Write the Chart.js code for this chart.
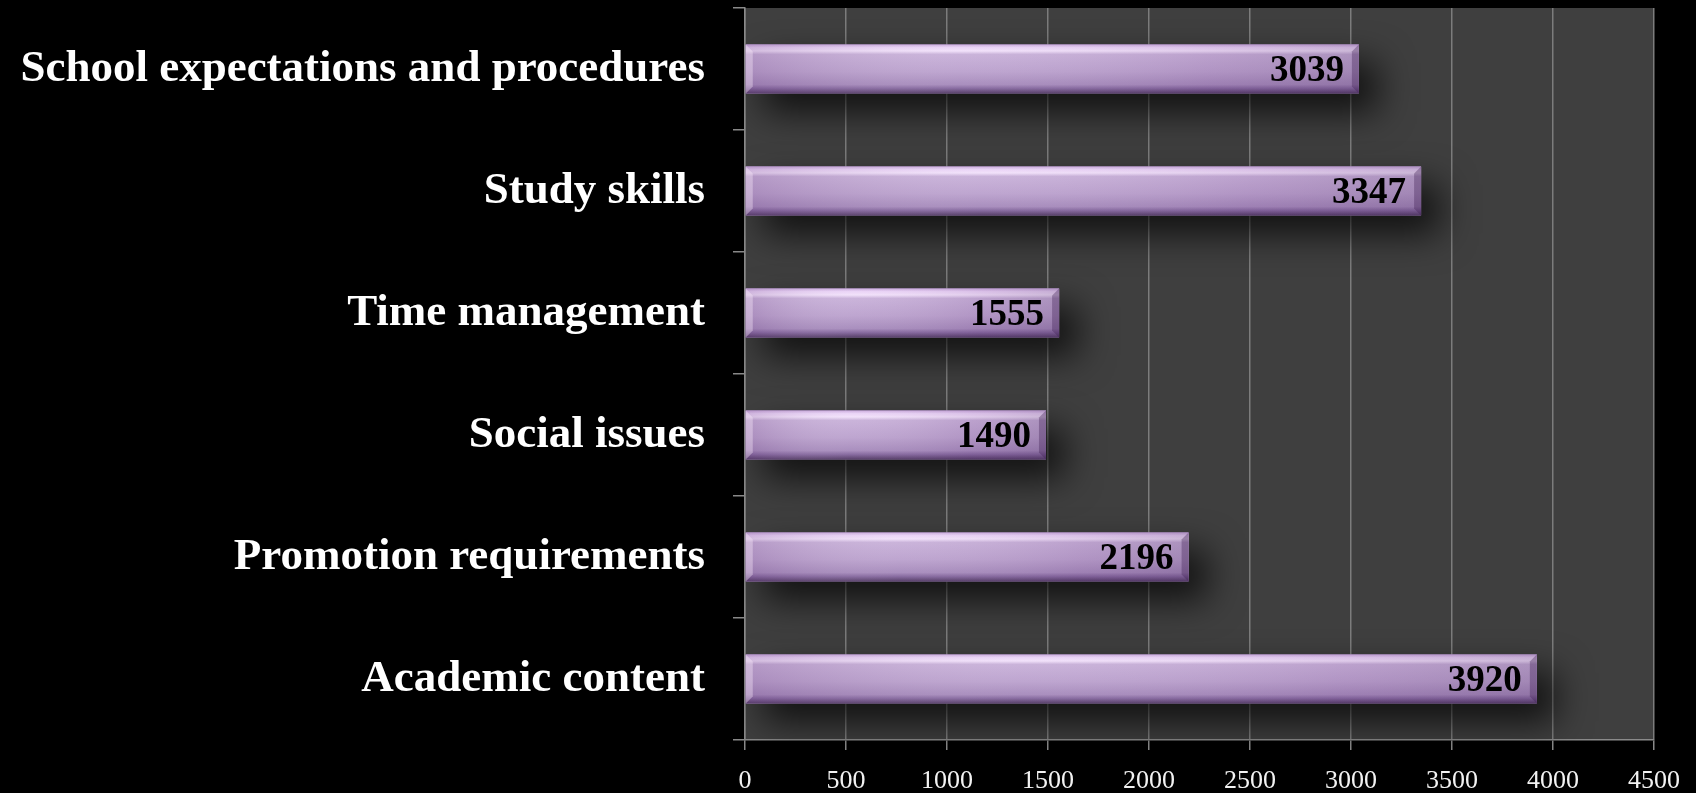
<!DOCTYPE html>
<html>
<head>
<meta charset="utf-8">
<script src="https://cdn.jsdelivr.net/npm/chart.js@4/dist/chart.umd.min.js"></script>
<style>
  html, body { margin: 0; padding: 0; background: #000; }
  #wrap { width: 1696px; height: 793px; }
</style>
</head>
<body>
<div id="wrap"><canvas id="bar-chart"></canvas></div>
<script>
var topics = ['School expectations and procedures', 'Study skills', 'Time management',
              'Social issues', 'Promotion requirements', 'Academic content'];
var counts = [3039, 3347, 1555, 1490, 2196, 3920];
var xTicks = [0, 500, 1000, 1500, 2000, 2500, 3000, 3500, 4000, 4500];

// dark panel behind the bars
var plotBg = {
    id: 'plotBg',
    beforeDraw: function (chart) {
        var a = chart.chartArea, ctx = chart.ctx;
        ctx.save();
        ctx.fillStyle = '#3f3f3f';
        ctx.fillRect(a.left, a.top, a.right - a.left, a.bottom - a.top);
        ctx.restore();
    }
};

// glossy bevelled bars with a soft shadow, then the value at the end
var bevel = {
    id: 'bevel',
    afterDatasetsDraw: function (chart) {
        var ctx = chart.ctx;
        var meta = chart.getDatasetMeta(0);
        meta.data.forEach(function (bar, i) {
            var x0 = bar.base, x1 = bar.x;
            var y0 = bar.y - bar.height / 2, y1 = bar.y + bar.height / 2;
            var w = x1 - x0, h = y1 - y0, b = 7;

            ctx.save();
            ctx.shadowColor = 'rgba(0,0,0,0.75)';
            ctx.shadowBlur = 36;
            ctx.shadowOffsetX = 18;
            ctx.shadowOffsetY = 18;
            ctx.fillStyle = '#a98cbe';
            ctx.fillRect(x0, y0, w, h);
            ctx.restore();

            ctx.save();
            var g = ctx.createLinearGradient(0, y0, 0, y1);
            g.addColorStop(0, '#c9a9dc');
            g.addColorStop(0.06, '#e9d2f6');
            g.addColorStop(0.13, '#f1e0fa');
            g.addColorStop(0.2, '#c7afd8');
            g.addColorStop(0.55, '#baa0cd');
            g.addColorStop(0.82, '#a488ba');
            g.addColorStop(0.9, '#80629a');
            g.addColorStop(1, '#4d3460');
            ctx.fillStyle = g;
            ctx.fillRect(x0, y0, w, h);

            // soft horizontal sheen
            var s = ctx.createLinearGradient(x0, 0, x1, 0);
            s.addColorStop(0, 'rgba(120,80,140,0.25)');
            s.addColorStop(0.35, 'rgba(255,255,255,0.06)');
            s.addColorStop(0.75, 'rgba(120,80,140,0.14)');
            s.addColorStop(1, 'rgba(90,60,110,0.25)');
            ctx.fillStyle = s;
            ctx.fillRect(x0, y0, w, h);

            // bevel edges: left light, right dark
            ctx.fillStyle = 'rgba(255,240,255,0.35)';
            ctx.beginPath();
            ctx.moveTo(x0, y0); ctx.lineTo(x0 + b, y0 + b); ctx.lineTo(x0 + b, y1 - b); ctx.lineTo(x0, y1);
            ctx.closePath(); ctx.fill();
            ctx.fillStyle = 'rgba(60,30,80,0.35)';
            ctx.beginPath();
            ctx.moveTo(x1, y0); ctx.lineTo(x1 - b, y0 + b); ctx.lineTo(x1 - b, y1 - b); ctx.lineTo(x1, y1);
            ctx.closePath(); ctx.fill();

            // value label
            ctx.fillStyle = '#000';
            ctx.font = 'bold 37px "Liberation Serif", serif';
            ctx.textAlign = 'right';
            ctx.textBaseline = 'middle';
            ctx.fillText(String(counts[i]), x1 - 15, bar.y + 2);
            ctx.restore();
        });
    }
};

new Chart(document.getElementById('bar-chart'), {
    type: 'bar',
    data: {
        labels: topics,
        datasets: [{
            data: counts,
            backgroundColor: '#a98cbe',
            borderWidth: 0,
            barPercentage: 0.8,
            categoryPercentage: 0.5
        }]
    },
    options: {
        indexAxis: 'y',
        responsive: true,
        maintainAspectRatio: false,
        animation: false,
        layout: { padding: { top: 8, right: 42, bottom: 0, left: 0 } },
        plugins: {
            legend: { display: false },
            tooltip: { enabled: false }
        },
        scales: {
            x: {
                min: 0,
                max: 4500,
                afterBuildTicks: function (axis) {
                    axis.ticks = xTicks.map(function (v) { return { value: v }; });
                },
                afterFit: function (axis) { axis.height = 53; },
                grid: {
                    color: '#7c7c7c',
                    lineWidth: 1.5,
                    tickLength: 10,
                    tickColor: '#8a8a8a'
                },
                border: { color: '#8a8a8a', width: 1.5 },
                ticks: {
                    color: '#f2f2f2',
                    padding: 16,
                    maxRotation: 0,
                    callback: function (v) { return String(v); },
                    font: { family: '"Liberation Serif", serif', size: 26 }
                }
            },
            y: {
                afterFit: function (axis) {
                    axis.width = 745;
                    axis.paddingTop = 0;
                    axis.paddingBottom = 0;
                },
                grid: {
                    drawOnChartArea: false,
                    tickLength: 12,
                    tickColor: '#8a8a8a',
                    lineWidth: 1.5
                },
                border: { color: '#8a8a8a', width: 1.5 },
                ticks: {
                    color: '#ffffff',
                    padding: 28,
                    font: { family: '"Liberation Serif", serif', size: 45, weight: 'bold' }
                }
            }
        }
    },
    plugins: [plotBg, bevel]
});
</script>
</body>
</html>
